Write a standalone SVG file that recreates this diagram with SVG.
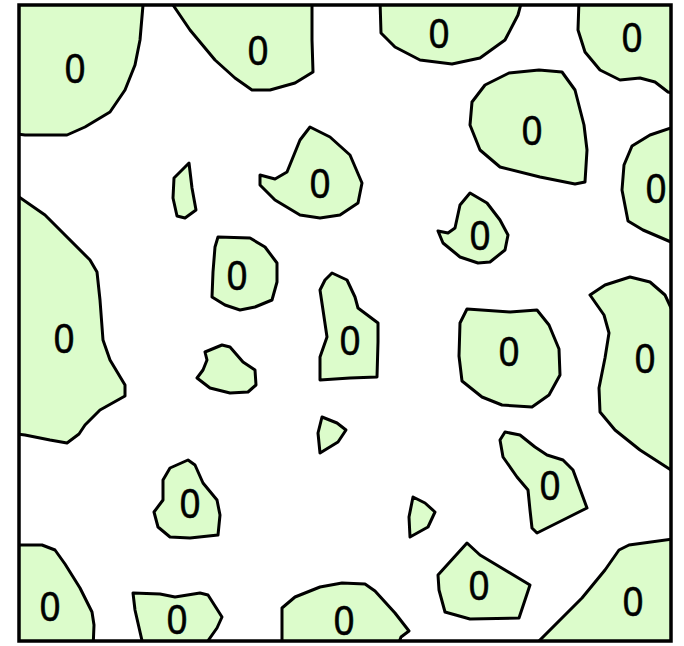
<svg xmlns="http://www.w3.org/2000/svg" width="684" height="646" viewBox="0 0 684 646">
<style>
.r{fill:#dcfccb;stroke:#000;stroke-width:3;stroke-linejoin:round}
.t{font-family:"Liberation Sans",Arial,sans-serif;font-size:42px;text-anchor:middle;fill:#000;stroke:#000;stroke-width:0.6;transform-box:fill-box;transform-origin:center;transform:scaleX(0.88)}
</style>
<defs><clipPath id="c"><rect x="19" y="5" width="652" height="636"/></clipPath></defs>
<rect x="0" y="0" width="684" height="646" fill="#fff"/>
<g clip-path="url(#c)">
<g id="nA"><polygon class="r" points="10,0 145,0 143,5 140,40 135,65 125,90 110,112 85,127 67,135 25,135 10,133"/><text class="t" x="75" y="83">0</text></g>
<g id="nB"><polygon class="r" points="170,0 173,5 190,30 215,60 235,78 252,90 270,90 295,83 313,72 312,40 312,0"/><text class="t" x="258" y="65">0</text></g>
<g id="nC"><polygon class="r" points="380,0 381,33 395,47 420,60 452,64 480,58 505,40 518,15 522,0"/><text class="t" x="439" y="48">0</text></g>
<g id="nD"><polygon class="r" points="579,0 578,30 585,52 600,70 620,80 640,78 655,82 668,92 680,95 680,0"/><text class="t" x="632" y="52">0</text></g>
<g id="nE"><polygon class="r" points="539,70 562,72 575,90 584,125 587,150 585,182 575,184 540,177 500,167 480,150 470,125 472,102 485,85 509,73"/><text class="t" x="532" y="145">0</text></g>
<g id="nF"><polygon class="r" points="680,126 671,128 650,135 632,146 624,165 622,190 628,221 643,230 671,242 680,242"/><text class="t" x="656" y="203">0</text></g>
<g id="nG"><polygon class="r" points="10,195 19,197 45,215 90,260 97,272 100,300 103,340 110,360 125,385 125,396 100,410 85,425 79,434 67,443 50,440 25,435 10,433"/><text class="t" x="64" y="353">0</text></g>
<g id="nH"><polygon class="r" points="10,545 42,545 55,550 65,564 80,588 92,612 94,625 93,650 10,650"/><text class="t" x="50" y="621">0</text></g>
<g id="nI"><polygon class="r" points="133,593 160,594 175,597 200,593 208,595 222,617 217,628 205,645 143,645 135,610"/><text class="t" x="177" y="634">0</text></g>
<g id="nJ"><polygon class="r" points="282,650 282,608 295,597 320,587 342,583 365,584 375,591 395,613 409,631 401,637 396,650"/><text class="t" x="344" y="635">0</text></g>
<g id="nK"><polygon class="r" points="467,543 480,555 500,567 530,585 519,618 470,619 445,612 439,590 438,575"/><text class="t" x="479" y="600">0</text></g>
<g id="nL"><polygon class="r" points="530,650 537,643 582,598 605,570 619,550 629,545 672,539 680,539 680,650"/><text class="t" x="633" y="616">0</text></g>
<g id="nM"><polygon class="r" points="590,295 605,285 630,277 650,282 665,295 672,310 680,310 680,476 671,470 640,450 615,430 600,412 599,388 605,358 609,333 604,315"/><text class="t" x="645" y="373">0</text></g>
<g id="nN"><polygon class="r" points="467,309 510,312 537,310 549,325 559,349 560,375 549,395 532,407 502,405 482,397 462,381 459,356 460,323"/><text class="t" x="509" y="366">0</text></g>
<g id="nO"><polygon class="r" points="470,193 487,203 500,220 508,235 505,250 490,262 478,263 460,257 443,243 438,231 448,233 455,228 460,205"/><text class="t" x="480" y="250">0</text></g>
<g id="nP"><polygon class="r" points="310,127 330,137 350,155 362,183 358,203 340,215 320,218 300,215 275,200 260,185 260,175 275,179 287,172 300,140"/><text class="t" x="320" y="198">0</text></g>
<g id="nQ"><polygon class="r" points="189,163 192,188 196,210 185,218 177,216 173,198 174,178 182,170"/></g>
<g id="nR"><polygon class="r" points="218,237 250,238 265,247 277,263 277,282 272,300 255,307 240,310 225,305 212,297 213,272 215,247"/><text class="t" x="237" y="290">0</text></g>
<g id="nS"><polygon class="r" points="205,352 222,345 230,347 243,362 255,370 256,385 248,392 230,393 210,388 197,378 203,370 207,360"/></g>
<g id="nT"><polygon class="r" points="332,273 347,280 355,297 358,308 378,323 378,342 377,377 350,378 320,380 320,357 327,337 323,310 320,290 325,280"/><text class="t" x="350" y="355">0</text></g>
<g id="nU"><polygon class="r" points="322,417 337,423 346,430 338,442 320,453 318,433"/></g>
<g id="nV"><polygon class="r" points="413,497 425,503 435,512 428,527 410,537 409,517"/></g>
<g id="nW"><polygon class="r" points="505,432 520,435 535,447 547,455 563,460 573,470 587,508 567,518 537,533 532,528 530,510 528,490 517,477 503,457 500,440"/><text class="t" x="550" y="500">0</text></g>
<g id="nX"><polygon class="r" points="188,460 195,465 203,483 217,500 220,515 218,535 190,538 170,537 158,527 154,512 163,500 163,480 170,468"/><text class="t" x="190" y="518">0</text></g>
</g>
<rect x="19" y="5" width="652" height="636" fill="none" stroke="#000" stroke-width="3.5"/>
</svg>
